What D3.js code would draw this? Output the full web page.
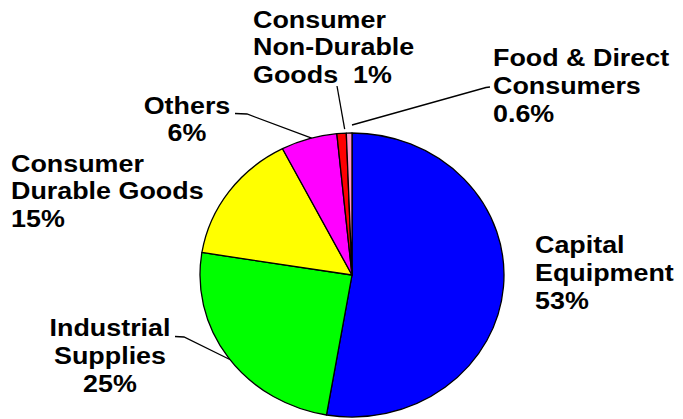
<!DOCTYPE html>
<html>
<head>
<meta charset="utf-8">
<script src="https://cdn.jsdelivr.net/npm/d3@7"></script>
<style>
  html, body { margin: 0; padding: 0; background: #ffffff; }
  svg { display: block; }
  .lbl { font-family: "Liberation Sans", Arial, sans-serif; font-weight: bold; font-size: 24px; fill: #000; }
</style>
</head>
<body>
<svg id="chart" width="683" height="419"></svg>
<script>
// Shipment share by end-use category, clockwise from 12 o'clock
const categories = ["Capital Equipment", "Industrial Supplies", "Consumer Durable Goods",
                    "Others", "Consumer Non-Durable Goods", "Food & Direct Consumers"];
const shares = [53, 25, 15, 6, 1, 0.6];
const sliceColors = ["#0000FF", "#00FF00", "#FFFF00", "#FF00FF", "#FF0000", "#FF99CC"];
const labelLines = [
  ["Capital", "Equipment", "53%"],
  ["Industrial", "Supplies", "25%"],
  ["Consumer", "Durable Goods", "15%"],
  ["Others", "6%"],
  ["Consumer", "Non-Durable", "Goods  1%"],
  ["Food & Direct", "Consumers", "0.6%"]
];

const W = 683, H = 419;
const cx = 352, cy = 275, rx = 152, ry = 142;
const svg = d3.select("#chart");

const pie = d3.pie().sort(null).value(d => d)(shares);
const arc = d3.arc().innerRadius(0).outerRadius(rx);

// slightly flattened pie (ellipse)
const pieG = svg.append("g")
  .attr("transform", `translate(${cx},${cy}) scale(1,${ry / rx})`);

pieG.selectAll("path")
  .data(pie)
  .join("path")
  .attr("d", arc)
  .attr("fill", (d, i) => sliceColors[i])
  .attr("stroke", "#000")
  .attr("stroke-width", 1.3)
  .attr("vector-effect", "non-scaling-stroke")
  .attr("stroke-linejoin", "round");

// label placement: [x, first baseline, anchor]
const labelPos = [
  [535, 253, "start"],
  [110, 336, "middle"],
  [11, 171.5, "start"],
  [187, 113.5, "middle"],
  [253, 27.5, "start"],
  [493, 66, "start"]
];
const lineH = 28;
const stretch = 1.12;

labelLines.forEach((lines, i) => {
  const [x, y, anchor] = labelPos[i];
  const g = svg.append("g").attr("transform", `translate(${x},${y}) scale(${stretch},1)`);
  const t = g.append("text").attr("class", "lbl").attr("text-anchor", anchor)
    .attr("xml:space", "preserve").style("white-space", "pre");
  lines.forEach((s, j) => {
    t.append("tspan").attr("x", 0).attr("dy", j === 0 ? 0 : lineH).text(s);
  });
});

// leader lines from labels to slices; frac = position along the slice rim
function edgePoint(i, frac) {
  const d = pie[i];
  const a = d.startAngle + (d.endAngle - d.startAngle) * frac;
  return [cx + rx * Math.sin(a), cy - ry * Math.cos(a)];
}
const leaders = [
  { slice: 3, frac: 0.55, gap: 0, pts: [[235, 113.5], [247, 114]] },
  { slice: 4, frac: 0.85, gap: 4, pts: [[337, 86]] },
  { slice: 5, frac: 1.0, gap: 8, pts: [[490, 87], [486, 87.5]] },
  { slice: 1, frac: 0.49, gap: 0, pts: [[175, 336.5], [184, 337]] }
];
const line = d3.line();
leaders.forEach(l => {
  const e = edgePoint(l.slice, l.frac);
  const dx = e[0] - cx, dy = e[1] - cy;
  const len = Math.hypot(dx, dy);
  const end = [e[0] + dx / len * l.gap, e[1] + dy / len * l.gap];
  svg.append("path")
    .attr("d", line([...l.pts, end]))
    .attr("fill", "none")
    .attr("stroke", "#000")
    .attr("stroke-width", 1.3);
});
</script>
</body>
</html>
